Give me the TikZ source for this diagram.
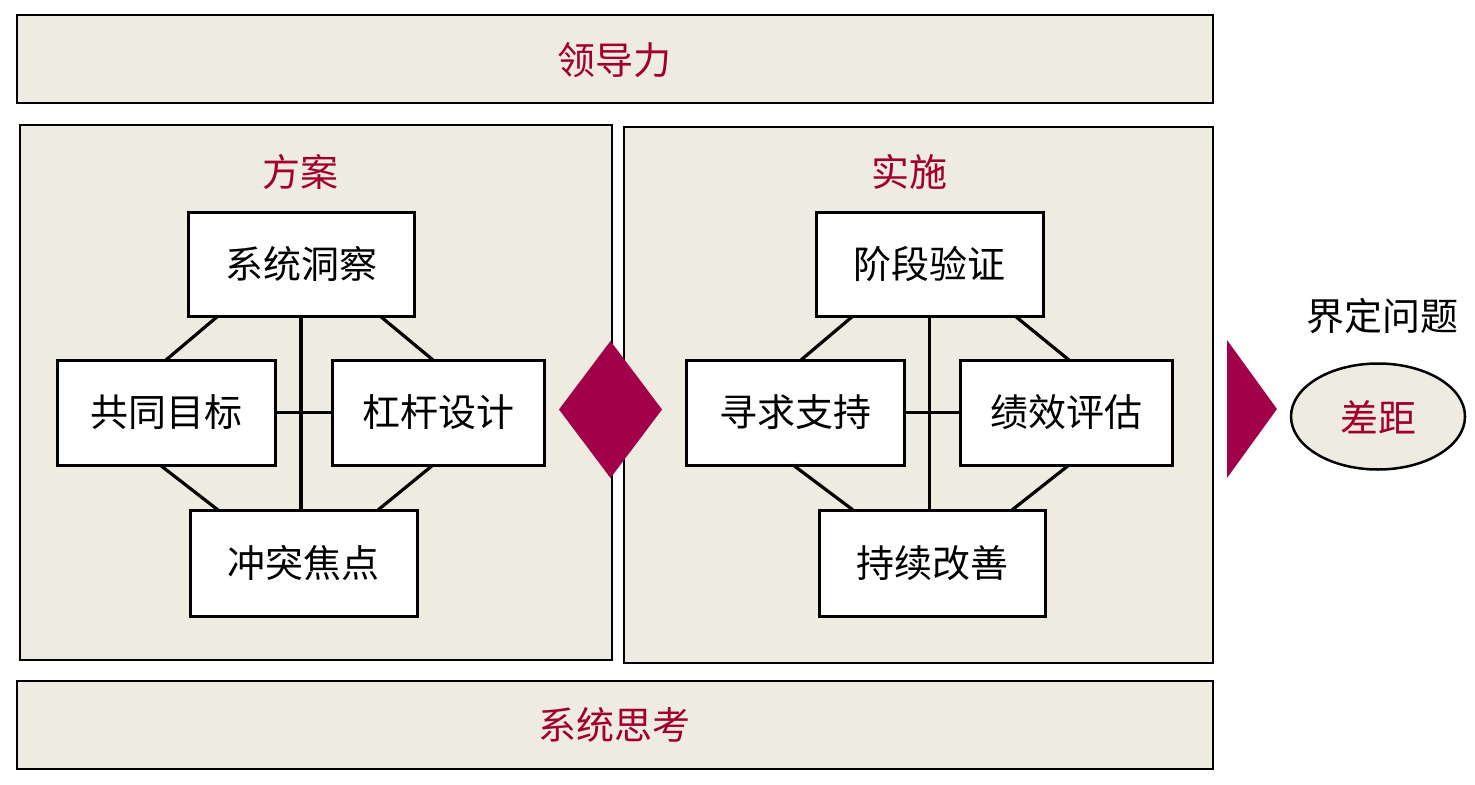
\documentclass[tikz,border=0pt]{standalone}
\usepackage{fontspec}
\newfontfamily\cjk{Noto Sans CJK SC}
\usetikzlibrary{calc}
\definecolor{beige}{HTML}{EEEBE0}
\definecolor{accent}{HTML}{A3004A}
\definecolor{redtext}{HTML}{A1002F}
\tikzset{
  panel/.style={draw=black, line width=2.5bp, fill=beige, inner sep=0pt, outer sep=0pt},
  item/.style={draw=black, line width=3bp, fill=white, inner sep=0pt, outer sep=0pt,
    font=\cjk\fontsize{38bp}{42bp}\selectfont},
  title/.style={text=redtext, inner sep=0pt, font=\cjk\fontsize{38bp}{42bp}\selectfont},
  link/.style={draw=black, line width=3.2bp},
}
\begin{document}
\begin{tikzpicture}[x=1bp,y=-1bp]
\useasboundingbox (0,0) rectangle (1475,784);
% bars and panels
\node[panel, minimum width=1196bp, minimum height=88bp] (lead) at (615,59) {};
\node[panel, minimum width=1196bp, minimum height=88bp] (sys) at (615,725) {};
\node[panel, minimum width=592bp, minimum height=535bp] (plan) at (316,392.5) {};
\node[panel, minimum width=589bp, minimum height=536bp] (impl) at (918.5,395) {};
\node[title] (leadt) at (614,60) {领导力};
\node[title] (syst) at (614,725) {系统思考};
\node[title] (plant) at (300,172) {方案};
\node[title] (implt) at (909,172) {实施};
% left group
\node[item, minimum width=226bp, minimum height=104bp] (g1t) at (301,264) {系统洞察};
\node[item, minimum width=217bp, minimum height=105bp] (g1l) at (166.5,412.5) {共同目标};
\node[item, minimum width=212bp, minimum height=105bp] (g1r) at (438,412.5) {杠杆设计};
\node[item, minimum width=227bp, minimum height=106bp] (g1b) at (303.5,563) {冲突焦点};
\draw[link] (g1t.south) -- (g1t.south |- g1b.north);
\draw[link] (g1l.east) -- (g1r.west);
\draw[link] ([xshift=30bp]g1t.south west) -- ([xshift=108bp]g1l.north west);
\draw[link] ([xshift=-34bp]g1t.south east) -- ([xshift=101bp]g1r.north west);
\draw[link] ([xshift=102bp]g1l.south west) -- ([xshift=28bp]g1b.north west);
\draw[link] ([xshift=101bp]g1r.south west) -- ([xshift=-39bp]g1b.north east);
% right group
\node[item, minimum width=227bp, minimum height=104bp] (g2t) at (929.5,264) {阶段验证};
\node[item, minimum width=218bp, minimum height=105bp] (g2l) at (795,412.5) {寻求支持};
\node[item, minimum width=212bp, minimum height=105bp] (g2r) at (1066,412.5) {绩效评估};
\node[item, minimum width=226bp, minimum height=106bp] (g2b) at (932,563) {持续改善};
\draw[link] (g2t.south) -- (g2t.south |- g2b.north);
\draw[link] (g2l.east) -- (g2r.west);
\draw[link] ([xshift=37bp]g2t.south west) -- ([xshift=115bp]g2l.north west);
\draw[link] ([xshift=-28bp]g2t.south east) -- ([xshift=109bp]g2r.north west);
\draw[link] ([xshift=107bp]g2l.south west) -- ([xshift=34bp]g2b.north west);
\draw[link] ([xshift=109bp]g2r.south west) -- ([xshift=-33bp]g2b.north east);
% diamond and triangle
\fill[accent] (610.5,341) -- (662,409.5) -- (610.5,478) -- (559,409.5) -- cycle;
\fill[accent] (1227,340) -- (1277,409) -- (1227,478) -- cycle;
% gap
\draw[black, line width=2.5bp, fill=beige] (1378,416.5) ellipse [x radius=87bp, y radius=53bp];
\node[title] (gap) at (1378,417) {差距};
\node[inner sep=0pt, font=\cjk\fontsize{38bp}{42bp}\selectfont] (define) at (1382,316) {界定问题};
\end{tikzpicture}
\end{document}
